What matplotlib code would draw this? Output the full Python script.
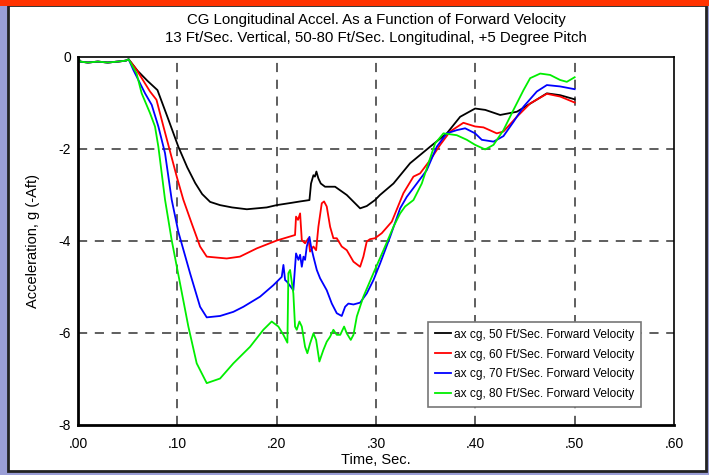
import matplotlib
matplotlib.use("Agg")
import matplotlib.pyplot as plt
from matplotlib.patches import Rectangle

plt.rcParams['font.family'] = ['Liberation Sans', 'DejaVu Sans']

# start segment shared by every run (time s, accel g)
t_start = [0.0, 0.002, 0.01, 0.02, 0.03, 0.04, 0.048, 0.051]
a_start = [0.0, -0.1, -0.12, -0.1, -0.12, -0.1, -0.08, -0.05]

# 50 ft/s
t50 = [0.06, 0.07, 0.080, 0.09, 0.101, 0.110, 0.118, 0.125, 0.133, 0.143, 0.155, 0.170, 0.190,
       0.200, 0.215, 0.2236, 0.233, 0.2346, 0.237, 0.2385, 0.240, 0.242, 0.2444, 0.2487, 0.2588,
       0.2706, 0.284, 0.2907, 0.299, 0.304, 0.3176, 0.3343, 0.3545, 0.3713, 0.3847, 0.3998, 0.41,
       0.425, 0.4418, 0.4585, 0.472, 0.4854, 0.50]
a50 = [-0.3, -0.52, -0.72, -1.3, -1.95, -2.4, -2.74, -2.98, -3.15, -3.22, -3.27, -3.31, -3.27,
       -3.22, -3.17, -3.14, -3.11, -2.75, -2.57, -2.6, -2.49, -2.64, -2.75, -2.82, -2.82,
       -3.0, -3.29, -3.24, -3.11, -3.0, -2.75, -2.31, -1.95, -1.66, -1.30, -1.12, -1.15,
       -1.26, -1.19, -0.97, -0.79, -0.83, -0.92]

# 60 ft/s
t60 = [0.059, 0.0725, 0.079, 0.086, 0.0994, 0.106, 0.1145, 0.1229, 0.1296, 0.1497, 0.163, 0.18,
       0.200, 0.2185, 0.2195, 0.2215, 0.2236, 0.2253, 0.2286, 0.232, 0.2336, 0.237, 0.2397, 0.242,
       0.2454, 0.2477, 0.2504, 0.2538, 0.2571, 0.2605, 0.2655, 0.2706, 0.2773, 0.284, 0.2873,
       0.2907, 0.294, 0.299, 0.3058, 0.3159, 0.3276, 0.3377, 0.3444, 0.3545, 0.3646, 0.3746,
       0.388, 0.3998, 0.4082, 0.4216, 0.4283, 0.4418, 0.4552, 0.472, 0.4854, 0.50]
a60 = [-0.28, -0.75, -0.93, -1.51, -2.6, -3.1, -3.62, -4.12, -4.34, -4.38, -4.34, -4.16,
       -3.99, -3.87, -3.47, -3.54, -3.40, -3.98, -4.05, -3.94, -4.23, -4.12, -4.2, -3.69,
       -3.18, -3.14, -3.25, -3.69, -3.94, -3.94, -4.12, -4.2, -4.45, -4.56, -4.34,
       -4.01, -3.96, -3.94, -3.83, -3.58, -2.96, -2.60, -2.53, -2.24, -1.91, -1.62,
       -1.43, -1.51, -1.53, -1.66, -1.62, -1.30, -1.01, -0.80, -0.86, -0.99]

# 70 ft/s
t70 = [0.0557, 0.0675, 0.0742, 0.0809, 0.0876, 0.0943, 0.101, 0.1128, 0.1229, 0.1296, 0.143,
       0.1564, 0.1665, 0.1833, 0.1967, 0.2051, 0.2068, 0.2085, 0.2102, 0.2168, 0.2195, 0.2219,
       0.2236, 0.2253, 0.227, 0.2286, 0.2303, 0.233, 0.2346, 0.237, 0.2404, 0.2437, 0.2504,
       0.2555, 0.2605, 0.2655, 0.2689, 0.2722, 0.2773, 0.284, 0.2907, 0.2974, 0.3041, 0.3142,
       0.3243, 0.331, 0.3411, 0.3511, 0.3612, 0.3713, 0.3813, 0.3897, 0.3998, 0.4065, 0.4183,
       0.4283, 0.4384, 0.4485, 0.4619, 0.472, 0.4854, 0.50]
a70 = [-0.28, -0.79, -1.04, -1.51, -2.09, -3.1, -3.8, -4.70, -5.43, -5.66, -5.63,
       -5.54, -5.43, -5.21, -4.96, -4.78, -4.52, -4.85, -4.88, -5.07, -4.27, -4.41,
       -4.30, -4.56, -4.34, -4.41, -4.12, -3.91, -4.12, -4.34, -4.63, -4.81, -5.07,
       -5.36, -5.57, -5.63, -5.43, -5.36, -5.38, -5.34, -5.14, -4.85, -4.49, -3.91,
       -3.29, -3.04, -2.75, -2.46, -1.95, -1.66, -1.59, -1.55, -1.66, -1.80, -1.84,
       -1.72, -1.41, -1.08, -0.75, -0.61, -0.64, -0.70]

# 80 ft/s
t80 = [0.059, 0.0641, 0.0725, 0.0775, 0.0809, 0.0876, 0.0943, 0.1027, 0.1111, 0.1195, 0.1296,
       0.143, 0.1564, 0.1732, 0.1866, 0.195, 0.2017, 0.2068, 0.2108, 0.2118, 0.2135, 0.2168,
       0.2185, 0.2202, 0.2229, 0.2253, 0.2286, 0.2309, 0.2336, 0.237, 0.2397, 0.243, 0.247,
       0.2504, 0.2538, 0.2571, 0.2605, 0.264, 0.2679, 0.2706, 0.2746, 0.2773, 0.2807, 0.2873,
       0.2974, 0.3075, 0.3176, 0.3243, 0.3293, 0.3377, 0.3461, 0.3528, 0.3595, 0.3679, 0.3813,
       0.3914, 0.3998, 0.4099, 0.4183, 0.4283, 0.4384, 0.4485, 0.4552, 0.4653, 0.4753, 0.4854,
       0.4921, 0.50]
a80 = [-0.36, -0.79, -1.22, -1.51, -1.95, -3.1, -3.98, -4.92, -5.86, -6.66, -7.09,
       -6.99, -6.66, -6.30, -5.93, -5.75, -5.86, -6.04, -6.21, -4.70, -4.63, -5.14,
       -5.86, -5.93, -5.75, -5.86, -6.30, -6.44, -6.23, -6.01, -6.15, -6.62, -6.37,
       -6.19, -6.08, -5.93, -6.04, -6.04, -5.86, -6.01, -6.15, -6.04, -5.64, -5.21,
       -4.70, -4.2, -3.69, -3.40, -3.25, -3.11, -2.75, -2.31, -1.88, -1.66, -1.70,
       -1.80, -1.91, -2.01, -1.91, -1.59, -1.15, -0.72, -0.46, -0.36, -0.39, -0.50,
       -0.54, -0.44]

labels = ['ax cg, 50 Ft/Sec. Forward Velocity',
          'ax cg, 60 Ft/Sec. Forward Velocity',
          'ax cg, 70 Ft/Sec. Forward Velocity',
          'ax cg, 80 Ft/Sec. Forward Velocity']
colors = ['black', '#ff0000', '#0000ff', '#00ee00']
xticks = [0.0, 0.1, 0.2, 0.3, 0.4, 0.5, 0.6]
xticklabels = ['.00', '.10', '.20', '.30', '.40', '.50', '.60']
yticks = [0, -2, -4, -6, -8]
yticklabels = ['0', '-2', '-4', '-6', '-8']

fig = plt.figure(figsize=(7.09, 4.75), dpi=100, facecolor='#9a9ed6')

# white panel with black border, red bar on top
fig.patches.append(Rectangle((8 / 709, 4 / 475), 698 / 709, 466 / 475, transform=fig.transFigure,
                             facecolor='white', edgecolor='#222222', linewidth=2, zorder=-2))
fig.patches.append(Rectangle((0, 1 - 6 / 475), 1, 6 / 475, transform=fig.transFigure,
                             facecolor='#ff3300', edgecolor='none', zorder=-1))

ax = fig.add_axes([78 / 709, 1 - 425 / 475, 596 / 709, 368 / 475])

series = [(t50, a50), (t60, a60), (t70, a70), (t80, a80)]
for (t, a), c, lab in zip(series, colors, labels):
    ax.plot(t_start + t, a_start + a, color=c, linewidth=1.3, label=lab)

ax.set_xlim(0, 0.6)
ax.set_ylim(-8, 0)
ax.set_xticks(xticks)
ax.set_xticklabels(xticklabels)
ax.set_yticks(yticks)
ax.set_yticklabels(yticklabels)
ax.tick_params(length=0, labelsize=10)
ax.tick_params(axis='x', pad=9)
ax.tick_params(axis='y', pad=5)

# dashed grid only at inner lines
for x in xticks[1:-1]:
    ax.axvline(x, color='#333333', linewidth=1.1, dashes=(6, 5), zorder=0.5)
for y in yticks[1:-1]:
    ax.axhline(y, color='#333333', linewidth=1.1, dashes=(6, 5), zorder=0.5)

for s in ['left', 'bottom']:
    ax.spines[s].set_linewidth(2)
for s in ['top', 'right']:
    ax.spines[s].set_linewidth(1.2)

ax.set_xlabel('Time, Sec.', fontsize=10.5, labelpad=1)
ax.set_ylabel('Acceleration, g (-Aft)', fontsize=10.5, labelpad=13)
ax.set_title('CG Longitudinal Accel. As a Function of Forward Velocity\n'
             '13 Ft/Sec. Vertical, 50-80 Ft/Sec. Longitudinal, +5 Degree Pitch',
             fontsize=10.8, linespacing=1.3, pad=11)

leg = ax.legend(loc='lower right', bbox_to_anchor=(0.955, 0.033), fontsize=8.6, frameon=True,
                fancybox=False, handlelength=1.35, handletextpad=0.3, labelspacing=0.66,
                borderpad=0.55)
leg.get_frame().set_edgecolor('#777777')
leg.get_frame().set_linewidth(1.2)
leg.get_frame().set_alpha(1)

fig.savefig('out.png', dpi=100, facecolor=fig.get_facecolor())
